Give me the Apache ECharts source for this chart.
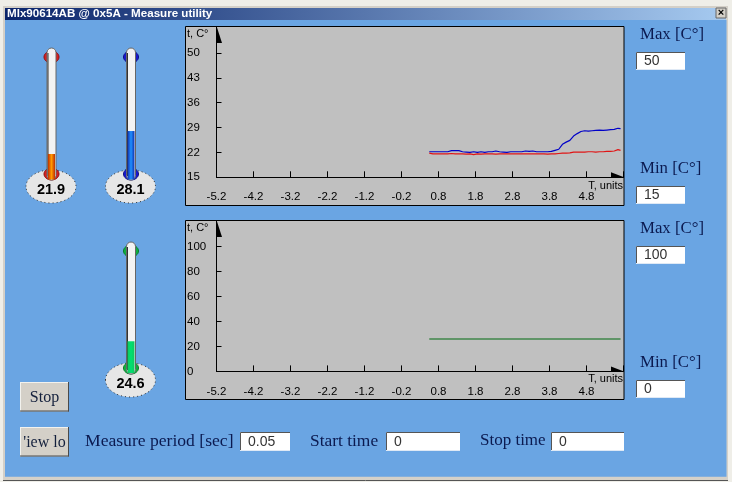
<!DOCTYPE html>
<html>
<head>
<meta charset="utf-8">
<style>html,body{margin:0;padding:0;background:#efeee8}#c{width:732px;height:482px}</style>
<script src="https://cdn.jsdelivr.net/npm/echarts@6/dist/echarts.min.js"></script>
</head>
<body>
<div id="c"></div>
<script>
const times = [0.55,0.65,0.75,0.85,0.95,1.05,1.15,1.25,1.35,1.45,1.55,1.65,1.75,1.85,1.95,2.05,2.15,2.25,2.35,2.45,2.55,2.65,2.75,2.85,2.95,3.05,3.15,3.25,3.35,3.45,3.55,3.65,3.75,3.85,3.95,4.05,4.15,4.25,4.35,4.45,4.55,4.65,4.75,4.85,4.95,5.05,5.15,5.25,5.35,5.45,5.55,5.65,5.72];
const blueTemp = [22.2,22.2,22.2,22.2,22.2,22.2,22.5,22.5,22.5,22.2,22.1,22.0,22.2,22.0,22.2,22.0,22.2,22.2,22.4,22.2,22.1,22.0,22.2,22.2,22.2,22.2,22.4,22.3,22.4,22.2,22.2,22.2,22.2,22.3,22.6,22.9,24.3,24.9,25.4,26.6,27.3,27.9,28.1,28.0,28.1,28.2,28.3,28.2,28.3,28.4,28.5,28.8,28.7];
const redTemp = [21.8,21.6,21.6,21.6,21.6,21.6,21.7,21.6,21.6,21.6,21.5,21.6,21.4,21.6,21.5,21.6,21.6,21.6,21.5,21.6,21.6,21.6,21.6,21.6,21.6,21.6,21.6,21.6,21.6,21.6,21.6,21.6,21.5,21.6,21.6,21.7,21.8,21.8,21.9,22.1,22.1,22.1,22.1,22.2,22.2,22.1,22.2,22.2,22.3,22.3,22.4,22.8,22.6];
const greenLevel = [26,26,26,26,26,26,26,26,26,26,26,26,26,26,26,26,26,26,26,26,26,26,26,26,26,26,26,26,26,26,26,26,26,26,26,26,26,26,26,26,26,26,26,26,26,26,26,26,26,26,26,26,26];
const xTickLabels = ['-5.2','-4.2','-3.2','-2.2','-1.2','-0.2','0.8','1.8','2.8','3.8','4.8',''];
const xShift = 5.2;
const gaugeValues = [21.9, 28.1, 24.6];
const gaugeRanges = [[15,50],[15,50],[0,100]];
const gaugeCenters = [51.5, 131, 131];
const topRange = [15, 50, 7];
const bottomRange = [0, 100, 20];

const SANS = '"Liberation Sans", Arial, sans-serif';
const SERIF = '"Liberation Serif", serif';
const NAVY = '#0b1a50';
const pairs = v => times.map((t, i) => [t + xShift, v[i]]);

function rect(x, y, w, h, fill, extra) {
  return Object.assign({type:'rect', shape:{x, y, width:w, height:h}, style:{fill}, z:1}, extra||{});
}
function txt(x, y, text, font, fill, align) {
  return {type:'text', x, y, z:9, style:{text, font, fill:fill||NAVY, align:align||'left', verticalAlign:'middle'}};
}
function line(x1,y1,x2,y2,stroke,z){
  return {type:'line', shape:{x1,y1,x2,y2}, style:{stroke, lineWidth:1}, z:z||1};
}
function input(x, y, w, h, text) {
  return [
    rect(x, y, w, h, '#ffffff'),
    line(x+.5, y+.5, x+w, y+.5, '#555555', 2),
    line(x+.5, y+.5, x+.5, y+h, '#555555', 2),
    line(x, y+h-.5, x+w, y+h-.5, '#dfe9f5', 2),
    txt(x+8, y+h/2+.5, text, '14px '+SANS, '#333333')
  ];
}
function button(x, y, w, h, text, tx) {
  return [
    rect(x, y, w, h, '#d4d0c8'),
    line(x, y+.5, x+w, y+.5, '#f2f2ee', 2),
    line(x+.5, y, x+.5, y+h, '#f2f2ee', 2),
    line(x, y+h-.5, x+w, y+h-.5, '#4a4a4a', 2),
    line(x+w-.5, y, x+w-.5, y+h, '#4a4a4a', 2),
    txt(tx, y+h/2+1, text, '16px '+SERIF, '#14203c', 'center')
  ];
}
function plotFrame(top, axisY, tipTop) {
  return [
    rect(185.5, top+.5, 438.5, 179, '#c0c0c0', {style:{fill:'#c0c0c0', stroke:'#000', lineWidth:1}}),
    line(216.5, tipTop, 216.5, tipTop+27, '#000', 7),
    {type:'polygon', z:7, shape:{points:[[216.5,tipTop],[222,tipTop+17],[216.5,tipTop+17]]}, style:{fill:'#000'}},
    {type:'polygon', z:7, shape:{points:[[624,axisY],[611,axisY-5],[611,axisY]]}, style:{fill:'#000'}}
  ];
}
function thermo(cx, topY, bottomY, ell1, ell2, dark, mid, value) {
  const ex = cx - .5, ey = (ell1+ell2)/2;
  return [
    {type:'ellipse', z:2, shape:{cx, cy:topY+9, rx:7.5, ry:6}, style:{fill:mid, stroke:dark, lineWidth:1}},
    {type:'ellipse', z:3, shape:{cx:ex, cy:ey, rx:25, ry:(ell2-ell1)/2}, style:{fill:'#e6e6e6', stroke:'#333', lineWidth:1, lineDash:[1,3]}},
    {type:'ellipse', z:3, shape:{cx, cy:bottomY-6, rx:7.5, ry:6}, style:{fill:mid, stroke:dark, lineWidth:1}},
    {type:'rect', z:4, shape:{x:cx-4.5, y:topY, width:9, height:bottomY-topY, r:4.5}, style:{fill:'#f3f3f3', stroke:'#666', lineWidth:1}},
    line(cx-3.5, topY+5, cx-3.5, bottomY-4, '#333', 4),
    txt(ex, ey+(ell2-ell1)*0.08+1, value.toFixed(1), 'bold 14.5px '+SANS, '#000', 'center')
  ];
}

const graphics = [].concat(
  [
    rect(3, 6, 725, 474.5, '#d4d0c8'),
    line(3, 480.5, 728, 480.5, '#555', 1),
    rect(5, 20, 721.5, 456.7, '#6aa5e3'),
    {type:'rect', z:1, shape:{x:5,y:8,width:721,height:12}, style:{fill:{type:'linear',x:0,y:0,x2:1,y2:0,colorStops:[{offset:0,color:'#0a246a'},{offset:1,color:'#a6caf0'}]}}},
    txt(7, 14, 'Mlx90614AB @ 0x5A - Measure utility', 'bold 11.6px '+SANS, '#ffffff'),
    rect(716, 8, 10, 10, '#d4d0c8', {z:2, style:{fill:'#d4d0c8', stroke:'#666', lineWidth:1}}),
    txt(721, 13, '×', 'bold 11px '+SANS, '#000', 'center')
  ],
  plotFrame(26, 177.3, 26),
  plotFrame(220, 371.4, 220),
  thermo(gaugeCenters[0], 48, 180, 170, 203, '#8c1010', '#d82020', gaugeValues[0]),
  thermo(gaugeCenters[1], 48, 180, 170, 203, '#101080', '#1818d0', gaugeValues[1]),
  thermo(gaugeCenters[2], 242, 374, 363, 397, '#0a7a2a', '#10b040', gaugeValues[2]),
  [
    txt(187, 34, 't, C°', '11px '+SANS, '#000'),
    txt(187, 228, 't, C°', '11px '+SANS, '#000'),
    txt(623, 185.5, 'T, units', '11px '+SANS, '#000', 'right'),
    txt(623, 379, 'T, units', '11px '+SANS, '#000', 'right'),
    txt(640, 35, 'Max [C°]', '16.8px '+SERIF),
    txt(640, 169, 'Min [C°]', '16.8px '+SERIF),
    txt(640, 229, 'Max [C°]', '16.8px '+SERIF),
    txt(640, 363, 'Min [C°]', '16.8px '+SERIF),
    txt(85, 441, 'Measure period [sec]', '17.6px '+SERIF),
    txt(310, 441, 'Start time', '17.4px '+SERIF),
    txt(480, 441, 'Stop time', '17px '+SERIF)
  ],
  input(636, 52, 49, 18, '50'),
  input(636, 186, 49, 18, '15'),
  input(636, 246, 49, 18, '100'),
  input(636, 380, 49, 18, '0'),
  input(240, 432, 50, 19, '0.05'),
  input(386, 432, 74, 19, '0'),
  input(551, 432, 73, 19, '0'),
  button(20, 382, 49, 29.5, 'Stop', 44.5),
  button(20, 427, 49, 29.5, "'iew lo", 44.5)
);

function xAxisFor(gridIndex) {
  return {
    type:'value', gridIndex, min:0, max:11, interval:1, z:5,
    splitLine:{show:false},
    axisLine:{onZero:false, lineStyle:{color:'#000', width:1}},
    axisTick:{inside:true, length:6, lineStyle:{color:'#000'}},
    axisLabel:{margin:14, color:'#000', fontSize:11.5, fontFamily:'Liberation Sans', showMinLabel:true, showMaxLabel:true,
      formatter:v => xTickLabels[Math.round(v)]}
  };
}
function yAxisFor(gridIndex, r) {
  return {
    type:'value', gridIndex, min:r[0], max:r[1], interval:r[2], z:5,
    splitLine:{show:false},
    axisLine:{onZero:false, lineStyle:{color:'#000', width:1}},
    axisTick:{inside:true, length:5, lineStyle:{color:'#000'}},
    axisLabel:{margin:29.5, align:'left', color:'#000', fontSize:11.5, fontFamily:'Liberation Sans', padding:[2,0,0,0], showMinLabel:true, showMaxLabel:true}
  };
}
function traceSeries(idx, data, color) {
  return {type:'line', xAxisIndex:idx, yAxisIndex:idx, data, showSymbol:false, symbol:'none', z:6,
    lineStyle:{color, width:1.2}, itemStyle:{color}, animation:false};
}
function fillGradient(a, b) {
  return {type:'linear',x:0,y:0,x2:1,y2:0,colorStops:[{offset:0,color:a},{offset:.5,color:b},{offset:1,color:a}]};
}
const gaugeFills = [fillGradient('#c03000','#ff9a00'), fillGradient('#1030b0','#1e90ff'), fillGradient('#10c860','#00e070')];
const gaugeGrids = [[50,129.5],[50,129.5],[244,129]];

const option = {
  animation:false,
  backgroundColor:'#efeee8',
  graphic:{elements:graphics},
  grid:[
    {left:216.5, width:407, top:53, height:124.3},
    {left:216.5, width:407, top:246.7, height:124.7}
  ].concat(gaugeCenters.map((c,i)=>({left:c-4, width:8, top:gaugeGrids[i][0], height:gaugeGrids[i][1]}))),
  xAxis:[xAxisFor(0), xAxisFor(1)].concat(gaugeCenters.map((c,i)=>({type:'category', gridIndex:i+2, data:['t'], show:false}))),
  yAxis:[yAxisFor(0, topRange), yAxisFor(1, bottomRange)].concat(gaugeRanges.map((r,i)=>({type:'value', gridIndex:i+2, min:r[0], max:r[1], show:false}))),
  series:[
    traceSeries(0, pairs(blueTemp), '#0000c8'),
    traceSeries(0, pairs(redTemp), '#e01414'),
    traceSeries(1, pairs(greenLevel), '#006a10')
  ].concat(gaugeValues.map((v,i)=>({
    type:'bar', xAxisIndex:i+2, yAxisIndex:i+2, data:[v], barWidth:7, z:6,
    itemStyle:{color:gaugeFills[i]}
  })))
};
echarts.init(document.getElementById('c'), null, {renderer:'canvas'}).setOption(option);
</script>
</body>
</html>
